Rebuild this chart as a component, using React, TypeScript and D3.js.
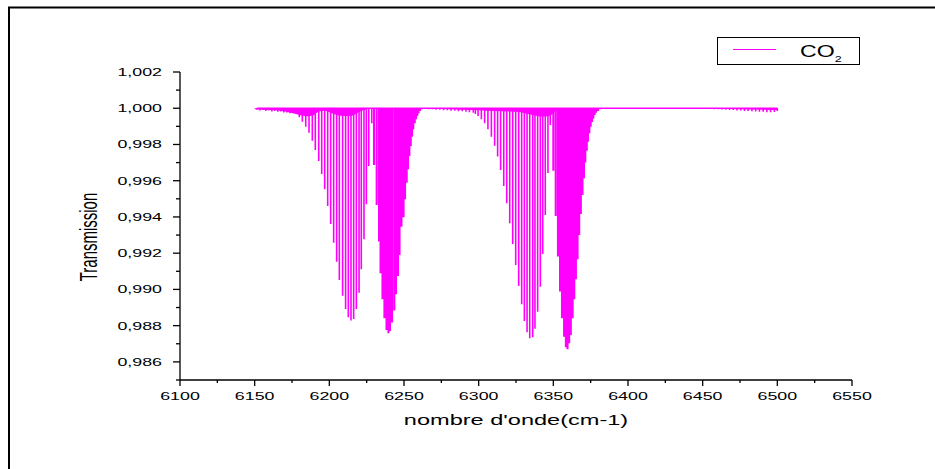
import React from "react";
import * as d3 from "d3";

// [wavenumber cm-1, transmission at line centre]
const leftTail: [number, number][] = [
  [6151.5, 0.99992], [6153.5, 0.99988], [6155.5, 0.9999], [6157.5, 0.99985],
  [6159.5, 0.99988], [6161.5, 0.99982], [6163.5, 0.99985], [6165.5, 0.9998],
  [6167.5, 0.99982], [6169.5, 0.99977], [6171.6, 0.99977], [6173.7, 0.99972],
  [6175.8, 0.99974], [6177.9, 0.9997],
];

const band1P: [number, number][] = [
  [6179.9, 0.9995], [6181.9, 0.99926], [6184.2, 0.99898], [6186.4, 0.99865],
  [6188.6, 0.99821], [6190.6, 0.9977], [6192.9, 0.99709], [6194.9, 0.99637],
  [6196.9, 0.99553], [6198.9, 0.9946], [6200.9, 0.99361], [6202.9, 0.99258],
  [6204.9, 0.99153], [6206.7, 0.99052], [6208.9, 0.98965], [6210.9, 0.98892],
  [6212.7, 0.98846], [6214.5, 0.98828], [6216.3, 0.98837], [6218.1, 0.98892],
  [6219.9, 0.98982], [6221.4, 0.99111], [6223.2, 0.99277], [6224.8, 0.9947],
  [6226.4, 0.99681], [6228.4, 0.99917],
];

const band1R: [number, number][] = [
  [6229.9, 0.99687], [6231.7, 0.99466], [6233.3, 0.99264], [6234.3, 0.99089],
  [6235.6, 0.98946], [6236.9, 0.98841], [6238.3, 0.98776], [6239.6, 0.98758],
  [6240.6, 0.98771], [6242.0, 0.98817], [6243.5, 0.98883], [6244.6, 0.98973],
  [6246.0, 0.99074], [6247.0, 0.9919], [6248.3, 0.99346], [6249.7, 0.99398],
  [6250.7, 0.99497], [6251.8, 0.99589], [6252.7, 0.99663], [6253.6, 0.99736],
  [6254.5, 0.99792], [6255.4, 0.99843], [6256.2, 0.99884], [6257.2, 0.99917],
  [6258.0, 0.99939], [6258.9, 0.99957], [6259.8, 0.99972], [6260.7, 0.99985],
  [6261.6, 0.99994],
];

const midTail: [number, number][] = [
  [6264, 0.99996], [6266.5, 0.99994], [6269, 0.99994], [6271.5, 0.99991],
  [6274, 0.99991], [6276.5, 0.99989], [6279, 0.99989], [6281.5, 0.99986],
  [6284, 0.99986], [6286.5, 0.99983], [6289, 0.99983], [6291.5, 0.9998],
  [6293.8, 0.99978], [6296.4, 0.99975], [6297.8, 0.99968],
];

const band2P: [number, number][] = [
  [6299.6, 0.99957], [6301.8, 0.99939], [6304.0, 0.99917], [6306.2, 0.99884],
  [6308.5, 0.99843], [6310.7, 0.99793], [6312.7, 0.99733], [6314.7, 0.99659],
  [6316.8, 0.99571], [6318.8, 0.99475], [6320.8, 0.99365], [6322.8, 0.99251],
  [6324.8, 0.99135], [6326.8, 0.99019], [6328.8, 0.98918], [6330.6, 0.98826],
  [6332.4, 0.98764], [6334.2, 0.9873], [6336.2, 0.98736], [6337.7, 0.98783],
  [6339.5, 0.98877], [6341.3, 0.99015], [6342.9, 0.99196], [6344.6, 0.99411],
  [6346.4, 0.99643], [6348.0, 0.99907],
];

const band2R: [number, number][] = [
  [6350.0, 0.99655], [6351.6, 0.99405], [6353.1, 0.99181], [6354.5, 0.98988],
  [6355.8, 0.98841], [6357.2, 0.98739], [6358.4, 0.98681], [6359.5, 0.9867],
  [6360.6, 0.98703], [6361.7, 0.98749], [6362.9, 0.98841], [6364.0, 0.98946],
  [6365.1, 0.99056], [6366.2, 0.99166], [6367.3, 0.993], [6368.4, 0.99416],
  [6369.5, 0.99521], [6370.5, 0.99613], [6371.4, 0.997], [6372.4, 0.99766],
  [6373.2, 0.99815], [6374.1, 0.99862], [6375.0, 0.99898], [6375.9, 0.99924],
  [6376.8, 0.99944], [6377.7, 0.99963], [6378.6, 0.99975], [6380.0, 0.99985],
  [6381.6, 0.99994],
];

const rightTail: [number, number][] = [
  [6458, 0.99995], [6460.5, 0.99994], [6463, 0.99993], [6465.5, 0.99992],
  [6468, 0.9999], [6470.5, 0.9999], [6473, 0.99988], [6475.5, 0.99987],
  [6478, 0.99985], [6480.5, 0.99985], [6483, 0.99983], [6485.5, 0.99982],
  [6488, 0.9998], [6490.5, 0.9998], [6493, 0.99978], [6495.5, 0.99978],
  [6498, 0.99979], [6500, 0.99985],
];

// upper envelope between lines (line wings)
const envelope1: [number, number][] = [
  [6150, 0.99995], [6160, 0.9999], [6168, 0.99985], [6174, 0.99975],
  [6180, 0.99963], [6185, 0.99956], [6189, 0.9996], [6193, 0.99982],
  [6197, 0.99986], [6201, 0.99975], [6205, 0.99962], [6210, 0.99957],
  [6215, 0.99958], [6219, 0.99975], [6223, 0.9999], [6228, 1.0],
];
const envelope2: [number, number][] = [
  [6262, 1.0], [6280, 0.99995], [6295, 0.9999], [6305, 0.99986],
  [6315, 0.99983], [6325, 0.9998], [6331, 0.99972], [6336, 0.99962],
  [6341, 0.99955], [6345, 0.99955], [6348, 0.9996], [6351, 0.9998],
  [6354, 1.0],
];
const envelope3: [number, number][] = [
  [6455, 1.0], [6475, 0.99995], [6500, 0.9999],
];

const xTicks = [6100, 6150, 6200, 6250, 6300, 6350, 6400, 6450, 6500, 6550];
const yTicks = [0.986, 0.988, 0.99, 0.992, 0.994, 0.996, 0.998, 1.0, 1.002];

const W = 935;
const H = 469;
const SX = 1.55; // the picture's text is stretched sideways
const FONT = "'Liberation Sans', Arial, sans-serif";
const MAGENTA = "#ff00ff";

const fr = d3.formatLocale({
  decimal: ",",
  thousands: ".",
  grouping: [3],
  currency: ["", ""],
});
const fmtY = fr.format(".3f");

export default function App() {
  const x = d3.scaleLinear().domain([6100, 6550]).range([180, 852]);
  const y = d3.scaleLinear().domain([0.985, 1.002]).range([380, 72]);

  const sparse = [...leftTail, ...band1P, ...midTail, ...band2P, ...rightTail];
  const dense = [...band1R, ...band2R];
  const [w0, w1] = d3.extent([...sparse, ...dense], (d) => d[0]) as [number, number];

  const sticks = (pts: [number, number][]) =>
    pts.map(([w, t]) => `M${x(w)},${y(1)}V${y(t)}`).join("");

  const area = d3
    .area<[number, number]>()
    .x((d) => x(d[0]))
    .y0(y(1))
    .y1((d) => y(d[1]))
    .curve(d3.curveMonotoneX);

  const baseline = d3
    .line<number>()
    .x((d) => x(d))
    .y(() => y(1));

  const xMinor = d3.range(6125, 6550, 50);
  const yMinor = d3.range(0.985, 1.0015, 0.002);
  const axisX = x(6100);
  const axisY = y(0.985);

  return (
    <svg
      width={W}
      height={H}
      style={{ position: "fixed", left: 0, top: 0, background: "#fff" }}
      fontFamily={FONT}
    >
      {/* frame */}
      <line x1={8} y1={7.5} x2={W} y2={7.5} stroke="#000" strokeWidth={2} />
      <line x1={9} y1={7} x2={9} y2={H} stroke="#000" strokeWidth={2} />

      {/* spectrum */}
      {[envelope1, envelope2, envelope3].map((env, i) => (
        <path key={i} d={area(env) || ""} fill={MAGENTA} />
      ))}
      <path d={baseline([w0, w1]) || ""} stroke={MAGENTA} strokeWidth={1.6} fill="none" />
      <path d={sticks(sparse)} stroke={MAGENTA} strokeWidth={1.6} fill="none" />
      <path d={sticks(dense)} stroke={MAGENTA} strokeWidth={2.1} fill="none" />

      {/* y axis */}
      <g stroke="#000" strokeWidth={1.3}>
        <line x1={axisX} x2={axisX} y1={y(1.002)} y2={axisY} />
        {yTicks.map((t) => (
          <line key={t} x1={axisX - 7} x2={axisX} y1={y(t)} y2={y(t)} />
        ))}
        {yMinor.map((t) => (
          <line key={t} x1={axisX - 4} x2={axisX} y1={y(t)} y2={y(t)} />
        ))}
      </g>
      {yTicks.map((t) => (
        <text
          key={t}
          transform={`translate(${axisX - 18},${y(t) + 4}) scale(${SX},1)`}
          textAnchor="end"
          fontSize={11.5}
          fill="#000"
        >
          {fmtY(t)}
        </text>
      ))}

      {/* x axis */}
      <g stroke="#000" strokeWidth={1.3}>
        <line x1={axisX} x2={x(6550)} y1={axisY} y2={axisY} />
        {xTicks.map((t) => (
          <line key={t} x1={x(t)} x2={x(t)} y1={axisY} y2={axisY + 6} />
        ))}
        {xMinor.map((t) => (
          <line key={t} x1={x(t)} x2={x(t)} y1={axisY} y2={axisY + 3} />
        ))}
      </g>
      {xTicks.map((t) => (
        <text
          key={t}
          transform={`translate(${x(t)},${axisY + 20}) scale(${SX},1)`}
          textAnchor="middle"
          fontSize={11.5}
          fill="#000"
        >
          {t}
        </text>
      ))}

      {/* titles */}
      <text
        transform={`translate(${(x(6100) + x(6550)) / 2},425) scale(${SX},1)`}
        textAnchor="middle"
        fontSize={15.2}
        fill="#000"
      >
        nombre d'onde(cm-1)
      </text>
      <text
        transform={`translate(97,237) scale(${SX},1) rotate(-90)`}
        textAnchor="middle"
        fontSize={15}
        fill="#000"
      >
        Transmission
      </text>

      {/* legend */}
      <rect x={717.5} y={37.5} width={142} height={27} fill="none" stroke="#000" strokeWidth={1} />
      <line x1={733} x2={776} y1={49.5} y2={49.5} stroke={MAGENTA} strokeWidth={1} />
      <text transform="translate(800,57) scale(1.4,1)" fontSize={16.5} fill="#000">
        CO
        <tspan fontSize={9} dy={5}>2</tspan>
      </text>
    </svg>
  );
}
